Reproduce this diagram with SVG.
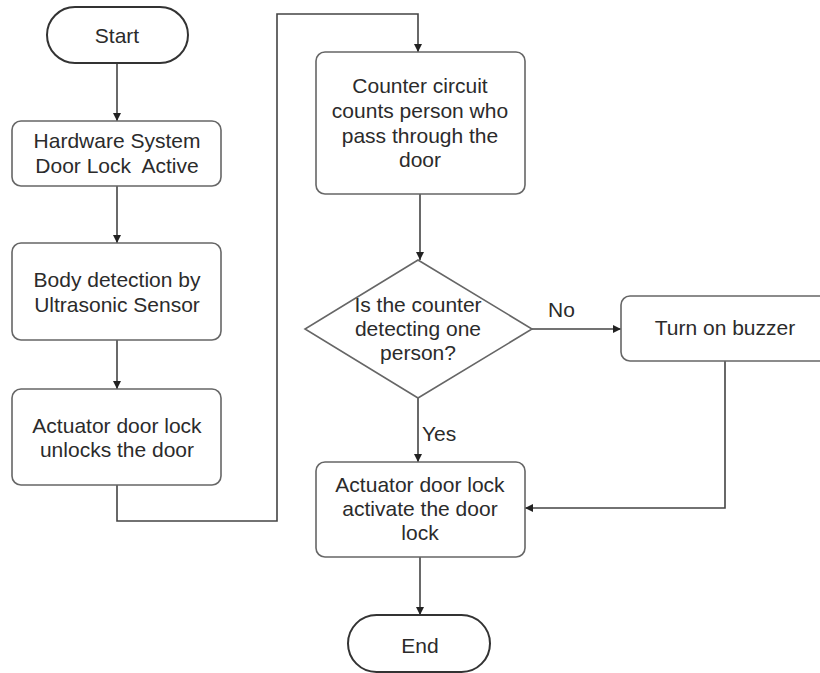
<svg xmlns="http://www.w3.org/2000/svg" width="820" height="673" viewBox="0 0 820 673">
<defs>
<marker id="arr" viewBox="0 0 10 10" refX="10" refY="5" markerWidth="8" markerHeight="8" markerUnits="userSpaceOnUse" orient="auto">
<path d="M0,0 L10,5 L0,10 z" fill="#222"/>
</marker>
</defs>
<style>
.box{fill:#fff;stroke:#666;stroke-width:1.6}
.term{fill:#fff;stroke:#333;stroke-width:2}
.t{font-family:"Liberation Sans",Arial,sans-serif;font-size:21px;fill:#2b2b2b;text-anchor:middle;white-space:pre}
.l{font-family:"Liberation Sans",Arial,sans-serif;font-size:21px;fill:#2b2b2b}
.c{fill:none;stroke:#444;stroke-width:1.6}
</style>
<rect width="820" height="673" fill="#fff"/>
<g id="connectors">
<path class="c" d="M117,63 V121" marker-end="url(#arr)"/>
<path class="c" d="M117,186 V243" marker-end="url(#arr)"/>
<path class="c" d="M117,340 V389" marker-end="url(#arr)"/>
<path class="c" d="M117,485 V521 H277 V14 H418 V52" marker-end="url(#arr)"/>
<path class="c" d="M420,194 V260" marker-end="url(#arr)"/>
<path class="c" d="M532,329 H621" marker-end="url(#arr)"/>
<path class="c" d="M418,398 V462" marker-end="url(#arr)"/>
<path class="c" d="M725,361 V508 H525" marker-end="url(#arr)"/>
<path class="c" d="M420,557 V615" marker-end="url(#arr)"/>
<text class="l" x="548" y="317">No</text>
<text class="l" x="422" y="441">Yes</text>
</g>
<g id="start">
<rect class="term" x="47" y="7" width="141" height="56" rx="28" ry="28"/>
<text class="t" x="117" y="43">Start</text>
</g>
<g id="hardware">
<rect class="box" x="12" y="121" width="209" height="65" rx="9"/>
<text class="t" x="117" y="148">Hardware System</text>
<text class="t" x="117" y="173" xml:space="preserve">Door Lock  Active</text>
</g>
<g id="body">
<rect class="box" x="12" y="243" width="209" height="97" rx="9"/>
<text class="t" x="117" y="287">Body detection by</text>
<text class="t" x="117" y="312">Ultrasonic Sensor</text>
</g>
<g id="unlock">
<rect class="box" x="12" y="389" width="209" height="96" rx="9"/>
<text class="t" x="117" y="433">Actuator door lock</text>
<text class="t" x="117" y="457">unlocks the door</text>
</g>
<g id="counter">
<rect class="box" x="316" y="52" width="209" height="142" rx="9"/>
<text class="t" x="420" y="93">Counter circuit</text>
<text class="t" x="420" y="118">counts person who</text>
<text class="t" x="420" y="143">pass through the</text>
<text class="t" x="420" y="167">door</text>
</g>
<g id="decision">
<polygon class="box" points="418,260 532,329 418,398 305,329"/>
<text class="t" x="418" y="312">Is the counter</text>
<text class="t" x="418" y="336">detecting one</text>
<text class="t" x="418" y="360">person?</text>
</g>
<g id="buzzer">
<rect class="box" x="621" y="296" width="208" height="65" rx="9"/>
<text class="t" x="725" y="335">Turn on buzzer</text>
</g>
<g id="activate">
<rect class="box" x="316" y="462" width="209" height="95" rx="9"/>
<text class="t" x="420" y="492">Actuator door lock</text>
<text class="t" x="420" y="516">activate the door</text>
<text class="t" x="420" y="540">lock</text>
</g>
<g id="end">
<rect class="term" x="348" y="615" width="142" height="57" rx="28.5" ry="28.5"/>
<text class="t" x="420" y="653">End</text>
</g>
</svg>
